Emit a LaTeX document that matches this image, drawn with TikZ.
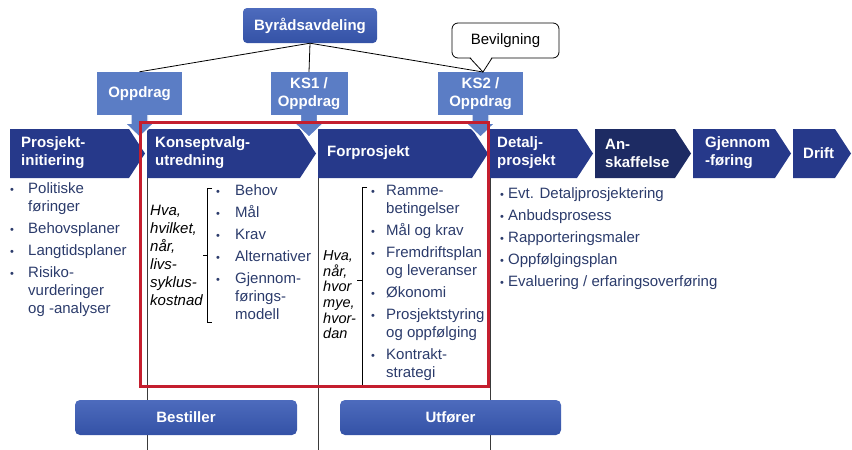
\documentclass[tikz,border=0pt]{standalone}
\usepackage{fontspec}
\setmainfont{Liberation Sans}
\definecolor{chev}{HTML}{26398A}
\definecolor{chevdark}{HTML}{1D2B63}
\definecolor{callout}{HTML}{5B7DC5}
\definecolor{btntop}{HTML}{4D6BBD}
\definecolor{btnbot}{HTML}{3452A6}
\definecolor{listtxt}{HTML}{2B3B6B}
\definecolor{redbox}{HTML}{C41E2E}
\definecolor{colline}{HTML}{3A3A3A}
\newcommand{\bul}{{\fontsize{11}{11}\selectfont •}}
\begin{document}
\begin{tikzpicture}[x=1pt,y=-1pt,
  chevtxt/.style={text=white, font=\fontsize{15}{18}\selectfont\bfseries, align=left, anchor=west, inner sep=0pt},
  cbox/.style={fill=callout, text=white, font=\fontsize{15}{18}\selectfont\bfseries, align=center, minimum height=43pt, inner sep=0pt},
  headbox/.style={rounded corners=4pt, top color=btntop, bottom color=btnbot, text=white, font=\fontsize{15}{18}\selectfont\bfseries, minimum height=35pt, inner sep=0pt},
  conn/.style={draw=black, line width=0.8pt},
  lst/.style={text=listtxt, font=\fontsize{15}{18}\selectfont, anchor=base west, inner sep=0pt},
  itl/.style={text=black, anchor=base west, inner sep=0pt},
  brk/.style={draw=black, line width=0.8pt},
  cline/.style={draw=colline, line width=0.8pt},
  head/.style={fill=callout, draw=white, line width=1.2pt, line join=miter}
]
\useasboundingbox (0,0) rectangle (852,450);

% column lines
\draw[cline] (147,178) -- (147,450);
\draw[cline] (318,178) -- (318,450);
\draw[cline] (490,178) -- (490,450);

% top boxes
\node[headbox, minimum width=134pt] (byr) at (310,25.5) {Byrådsavdeling};
\node[cbox, minimum width=85pt] (opp) at (139.5,93.5) {Oppdrag};
\node[cbox, minimum width=77pt] (ks1) at (309,93.5) {KS1 /\\Oppdrag};
\node[cbox, minimum width=85pt] (ks2) at (480.5,93.5) {KS2 /\\Oppdrag};

% Bevilgning callout
\node[draw=black, line width=0.8pt, fill=white, rounded corners=6pt, minimum width=107pt, minimum height=35pt, inner sep=0pt, font=\fontsize{15}{18}\selectfont] (bev) at (505.5,40.5) {Bevilgning};
\coordinate (bevtip) at (483,72);
\fill[white] (470.5,57) -- (bevtip) -- (491.5,57) -- cycle;
\draw[line width=0.8pt] (470,58) -- (bevtip) -- (492,58);

% connectors
\draw[conn] (byr.south) -- (opp.north);
\draw[conn] (byr.south) -- (ks1.north);
\draw[conn] (byr.south) -- (bevtip);

% chevrons
\foreach \l/\t/\c in {10/145/chev, 147/316/chev, 318/488/chev, 490/593/chev, 595/691/chevdark, 693/791/chev, 793/851/chev}{
  \fill[\c] (\l,129) -- ({\t-16},129) -- (\t,153.5) -- ({\t-16},178) -- (\l,178) -- cycle;
}
\node[chevtxt] (c1) at (21,153) {Prosjekt-\\initiering};
\node[chevtxt] (c2) at (155,153) {Konseptvalg-\\utredning};
\node[chevtxt] (c3) at (327,153) {Forprosjekt};
\node[chevtxt] (c4) at (497,153) {Detalj-\\prosjekt};
\node[chevtxt] (c5) at (605,153) {An-\\skaffelse};
\node[chevtxt] (c6) at (705,153) {Gjennom\\-føring};
\node[chevtxt] (c7) at (803,153) {Drift};

% callout arrow heads
\foreach \n in {opp,ks1,ks2}{
  \path[head] ([xshift=-8.5pt]\n.south) -- ++(0,8) -- ++(-6,0) -- ++(14.5,14) -- ++(14.5,-14) -- ++(-6,0) -- ++(0,-8);
}

% lists
\node[lst] (l1) at (10,193) {\begin{tabular}[t]{@{}p{18pt}@{}l@{}}
\bul & Politiske\\
 & føringer\\[4pt]
\bul & Behovsplaner\\[4pt]
\bul & Langtidsplaner\\[4pt]
\bul & Risiko-\\
 & vurderinger\\
 & og -analyser
\end{tabular}};

\node[itl, font=\fontsize{15}{18}\selectfont\itshape] (i1) at (150,215) {\begin{tabular}[t]{@{}l@{}}
Hva,\\ hvilket,\\ når,\\ livs-\\ syklus-\\ kostnad
\end{tabular}};
\draw[brk] (212,188) -- (207,188) -- (207,322) -- (212,322);
\draw[brk] (207,255) -- (203,255);

\node[lst] (l2) at (216,195) {\begin{tabular}[t]{@{}p{19pt}@{}l@{}}
\bul & Behov\\[4pt]
\bul & Mål\\[4pt]
\bul & Krav\\[4pt]
\bul & Alternativer\\[4pt]
\bul & Gjennom-\\
 & førings-\\
 & modell
\end{tabular}};

\node[itl, font=\fontsize{14.5}{15.6}\selectfont\itshape] (i2) at (323,260) {\begin{tabular}[t]{@{}l@{}}
Hva,\\ når,\\ hvor\\ mye,\\ hvor-\\ dan
\end{tabular}};
\draw[brk] (367,187) -- (362,187) -- (362,385);
\draw[brk] (362,280) -- (357,280);

\node[lst] (l3) at (371,195) {\begin{tabular}[t]{@{}p{15pt}@{}l@{}}
\bul & Ramme-\\
 & betingelser\\[4pt]
\bul & Mål og krav\\[4pt]
\bul & Fremdriftsplan\\
 & og leveranser\\[4pt]
\bul & Økonomi\\[4pt]
\bul & Prosjektstyring\\
 & og oppfølging\\[4pt]
\bul & Kontrakt-\\
 & strategi
\end{tabular}};

\node[lst, font=\fontsize{15}{22}\selectfont] (l4) at (500,198) {\begin{tabular}[t]{@{}p{8pt}@{}l@{}}
\bul & Evt. Detaljprosjektering\\
\bul & Anbudsprosess\\
\bul & Rapporteringsmaler\\
\bul & Oppfølgingsplan\\
\bul & Evaluering / erfaringsoverføring
\end{tabular}};

% red frame
\draw[redbox, line width=3pt] (140,122) rectangle (488,386);

% buttons
\node[headbox, rounded corners=5pt, minimum width=222pt] (best) at (186,417.5) {Bestiller};
\node[headbox, rounded corners=5pt, minimum width=221pt] (utf) at (450.5,417.5) {Utfører};
\end{tikzpicture}
\end{document}
